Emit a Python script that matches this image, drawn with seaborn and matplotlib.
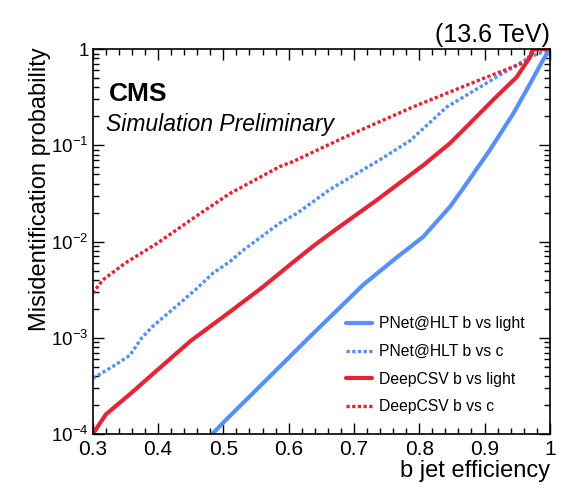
import math
import matplotlib
matplotlib.use("Agg")
import matplotlib.pyplot as plt
import matplotlib.ticker as mticker
import seaborn as sns
import pandas as pd

# ROC curves
pnet_light_eff = [0.483, 0.50, 0.53, 0.60, 0.632, 0.673, 0.714, 0.765, 0.806, 0.847, 0.867,
                  0.908, 0.944, 0.97, 0.99, 1.0]
pnet_light_mis = [1.0e-4, 1.32e-4, 2.1e-4, 6.2e-4, 1.02e-3, 1.9e-3, 3.55e-3, 6.8e-3, 1.12e-2,
                  2.3e-2, 3.55e-2, 8.9e-2, 0.214, 0.44, 0.78, 1.0]

pnet_c_eff = [0.30, 0.33, 0.357, 0.375, 0.392, 0.43, 0.459, 0.484, 0.51, 0.53, 0.586, 0.612,
              0.663, 0.74, 0.786, 0.842, 0.918, 0.97, 1.0]
pnet_c_mis = [3.8e-4, 5.0e-4, 6.6e-4, 1.0e-3, 1.32e-3, 2.19e-3, 3.24e-3, 4.7e-3, 6.2e-3, 8.1e-3,
              1.55e-2, 1.95e-2, 3.47e-2, 7.1e-2, 0.112, 0.25, 0.51, 0.83, 1.0]

deepcsv_light_eff = [0.30, 0.32, 0.357, 0.40, 0.45, 0.51, 0.561, 0.60, 0.637, 0.673, 0.735, 0.806,
                     0.847, 0.872, 0.918, 0.949, 0.97, 0.975, 1.0]
deepcsv_light_mis = [1.0e-4, 1.6e-4, 2.6e-4, 4.7e-4, 9.3e-4, 1.86e-3, 3.4e-3, 5.6e-3, 8.9e-3, 1.35e-2,
                     2.7e-2, 6.2e-2, 0.105, 0.155, 0.32, 0.51, 0.83, 1.0, 1.0]

deepcsv_c_eff = [0.30, 0.315, 0.35, 0.3976, 0.428, 0.464, 0.51, 0.535, 0.586, 0.607, 0.684, 0.79,
                 0.893, 0.964, 0.974, 1.0]
deepcsv_c_mis = [2.9e-3, 3.98e-3, 6.0e-3, 9.5e-3, 1.32e-2, 1.95e-2, 3.16e-2, 3.9e-2, 6.0e-2, 6.8e-2,
                 0.12, 0.25, 0.48, 0.74, 1.0, 1.0]

labels = ["PNet@HLT b vs light", "PNet@HLT b vs c", "DeepCSV b vs light", "DeepCSV b vs c"]
colors = ["#5790fc", "#5790fc", "#e42536", "#e42536"]
dotted = (0, (1.0, 0.7))
styles = ["-", dotted, "-", dotted]
widths = [3.0, 2.4, 3.0, 2.4]

sns.set_style("ticks")
plt.rcParams["font.family"] = ["Liberation Sans", "DejaVu Sans"]
plt.rcParams["mathtext.fontset"] = "custom"
plt.rcParams["mathtext.rm"] = "Liberation Sans"
plt.rcParams["mathtext.it"] = "Liberation Sans:italic"
plt.rcParams["text.color"] = "black"
plt.rcParams["axes.labelcolor"] = "black"
plt.rcParams["xtick.color"] = "black"
plt.rcParams["ytick.color"] = "black"
plt.rcParams["axes.edgecolor"] = "black"

curves = [
    (pnet_light_eff, pnet_light_mis),
    (pnet_c_eff, pnet_c_mis),
    (deepcsv_light_eff, deepcsv_light_mis),
    (deepcsv_c_eff, deepcsv_c_mis),
]

fig = plt.figure(figsize=(5.8, 4.91), dpi=100)
ax = fig.add_axes([0.160, 0.116, 0.788, 0.784])

for (eff, mis), lab, col, ls, lw in zip(curves, labels, colors, styles, widths):
    df = pd.DataFrame({"eff": eff, "mis": mis})
    sns.lineplot(data=df, x="eff", y="mis", ax=ax, color=col, linestyle=ls,
                 linewidth=lw, label=lab, sort=False, estimator=None,
                 dash_capstyle="butt")

ax.set_yscale("log")
ax.set_xlim(0.3, 1.0)
ax.set_ylim(1e-4, 1.0)

ax.xaxis.set_major_locator(mticker.MultipleLocator(0.1))
ax.xaxis.set_minor_locator(mticker.MultipleLocator(0.02))
ax.xaxis.set_major_formatter(mticker.FuncFormatter(
    lambda v, p: "1" if abs(v - 1) < 1e-6 else f"{v:.1f}"))
ax.yaxis.set_major_locator(mticker.LogLocator(base=10, numticks=10))
ax.yaxis.set_minor_locator(mticker.LogLocator(base=10, subs=range(2, 10), numticks=20))
ax.yaxis.set_minor_formatter(mticker.NullFormatter())
ax.yaxis.set_major_formatter(mticker.FuncFormatter(
    lambda v, p: "1" if abs(v - 1) < 1e-9 else r"$10^{%d}$" % round(math.log10(v))))

ax.tick_params(which="both", direction="in", top=True, right=True, width=1.0)
ax.tick_params(which="major", length=8)
ax.tick_params(which="minor", length=4)
ax.tick_params(axis="x", pad=4, labelsize=15)
ax.tick_params(axis="y", pad=3, labelsize=13.5)
for s in ax.spines.values():
    s.set_linewidth(1.2)

ax.set_xlabel("b jet efficiency", fontsize=17, loc="right", labelpad=1)
ax.set_ylabel("Misidentification probability", fontsize=17, loc="top")
ax.yaxis.set_label_coords(-0.091, 1.005)

ax.text(0.035, 0.915, "CMS", transform=ax.transAxes, fontsize=19, fontweight="bold",
        va="top", ha="left")
ax.text(0.028, 0.833, "Simulation Preliminary", transform=ax.transAxes, fontsize=16.5,
        style="italic", va="top", ha="left")
ax.text(1.0, 1.005, "(13.6 TeV)", transform=ax.transAxes, fontsize=18, ha="right", va="bottom")

leg = ax.legend(loc="lower right", bbox_to_anchor=(0.975, 0.015), frameon=False, fontsize=11.3,
                handlelength=1.7, labelspacing=0.8, handletextpad=0.4)

fig.savefig("out.png", dpi=100)
